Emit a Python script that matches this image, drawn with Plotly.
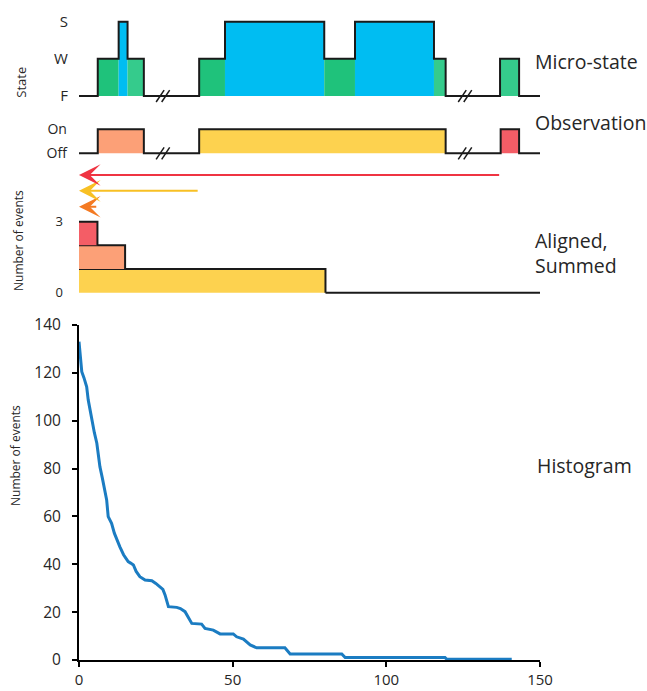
import plotly.graph_objects as go

# ---------------- data ----------------
# Micro-state trace: change times and state levels (F=0, W=1, S=2)
state_t = [0, 6.1, 12.9, 15.8, 21.1, 39.1, 47.5, 79.8, 89.8, 115.5, 119.3, 137.0, 143.2, 150]
state_v = [0, 1, 2, 1, 0, 1, 2, 1, 2, 1, 0, 1, 0, 0]
state_labels = ["F", "W", "S"]

# Observation events (On intervals)
obs_start = [6.1, 39.1, 137.2]
obs_end = [21.1, 119.3, 143.2]
obs_labels = ["Off", "On"]

# time-axis breaks
break_t = [27.3, 125.6]

# Aligned / summed levels
aligned_ticks = [0, 3]

# Histogram (number of events vs duration)
hist_x = [0, 0.3, 0.9, 1.6, 2.5, 3.0, 4.1, 5.0, 5.8, 6.8, 7.6, 8.5, 9.0, 9.5, 10.6,
          11.5, 12.4, 13.3, 14.5, 16.0, 16.8, 17.7, 18.6, 19.8, 21.5, 23.7, 25.0,
          26.4, 27.3, 28.0, 29.1, 31.8, 33.0, 34.5, 36.0, 36.7, 39.9, 41.0, 43.7,
          45.9, 50.2, 51.3, 53.5, 55.7, 57.8, 67.0, 68.7, 85.5, 86.6, 119.1, 119.7, 140.8]
hist_y = [133, 127.5, 120.5, 118, 114.2, 108.7, 100.3, 95, 90.6, 80.8, 76, 71, 66.9,
          59.9, 57.1, 53, 50, 47.3, 44, 41.1, 40.5, 39.7, 37, 34.8, 33.4, 33.1, 32,
          30.6, 29.5, 27.2, 22.3, 22.0, 21.5, 20.2, 17, 15.3, 15.0, 13.2, 12.5, 10.9,
          10.9, 9.7, 8.7, 6.3, 5.1, 5.1, 2.5, 2.5, 1.0, 1.0, 0.3, 0.3]
hist_xticks = [0, 50, 100, 150]
hist_yticks = [0, 20, 40, 60, 80, 100, 120, 140]

# ---------------- style ----------------
FONT = "Open Sans"
TXT = "#262626"
GREEN = "#1fc27b"
GREEN_L = "#35cb8c"
BLUE = "#00bdf2"
obs_colors = ["#fca077", "#fdd24f", "#f45d66"]
arrow_colors = ["#f47a22", "#f8c024", "#ef3442"]
seg_green = [None, GREEN, None, GREEN_L, None, GREEN, None, GREEN, None, GREEN_L, None, GREEN_L, None]
LINE = "#1a1a1a"
W = 647
H = 691


def px_y(py):
    return 1 - py / H


fig = go.Figure()

# ---------------- micro-state panel (x2/y2) ----------------
for i in range(len(state_t) - 1):
    v = state_v[i]
    if v == 0:
        continue
    col = BLUE if v == 2 else seg_green[i]
    t0, t1 = state_t[i], state_t[i + 1]
    fig.add_trace(go.Scatter(x=[t0, t0, t1, t1, t0], y=[0, v, v, 0, 0], fill="toself",
                             fillcolor=col, line=dict(width=0), mode="lines",
                             xaxis="x2", yaxis="y2", hoverinfo="skip", showlegend=False))
fig.add_trace(go.Scatter(x=state_t, y=state_v, mode="lines", line=dict(color=LINE, width=2, shape="hv"),
                         xaxis="x2", yaxis="y2", hoverinfo="skip", showlegend=False))

# ---------------- observation panel (x3/y3) ----------------
obs_x = [0]
obs_y = [0]
for i, (s, e) in enumerate(zip(obs_start, obs_end)):
    fig.add_trace(go.Scatter(x=[s, s, e, e, s], y=[0, 1, 1, 0, 0], fill="toself",
                             fillcolor=obs_colors[i], line=dict(width=0), mode="lines",
                             xaxis="x3", yaxis="y3", hoverinfo="skip", showlegend=False))
    obs_x += [s, e]
    obs_y += [1, 0]
obs_x.append(150)
obs_y.append(0)
fig.add_trace(go.Scatter(x=obs_x, y=obs_y, mode="lines", line=dict(color=LINE, width=2, shape="hv"),
                         xaxis="x3", yaxis="y3", hoverinfo="skip", showlegend=False))

# break marks "//"
for ax_x, ax_y, unit in (("x2", "y2", 0.16), ("x3", "y3", 0.25)):
    for b in break_t:
        for off in (-0.9, 0.9):
            fig.add_trace(go.Scatter(x=[b + off - 1.3, b + off + 1.3], y=[-unit, unit], mode="lines",
                                     line=dict(color=LINE, width=1.5), xaxis=ax_x, yaxis=ax_y,
                                     hoverinfo="skip", showlegend=False))

# ---------------- arrows panel (x4/y4) ----------------
annotations = []
for i, s in enumerate(obs_start):
    annotations.append(dict(x=0, y=i, ax=s, ay=i, xref="x4", yref="y4", axref="x4", ayref="y4",
                            text="", showarrow=True, arrowhead=3, arrowsize=1.8, arrowwidth=2,
                            arrowcolor=arrow_colors[i], standoff=0))
fig.add_trace(go.Scatter(x=[0], y=[0], mode="markers", marker=dict(opacity=0), xaxis="x4", yaxis="y4",
                         hoverinfo="skip", showlegend=False))

# ---------------- aligned / summed panel (x5/y5) ----------------
durations = sorted([e - s for s, e in zip(obs_start, obs_end)], reverse=True)
dur_color = {round(e - s, 3): obs_colors[i] for i, (s, e) in enumerate(zip(obs_start, obs_end))}
for lvl, d in enumerate(durations):
    col = dur_color[round(d, 3)]
    fig.add_trace(go.Scatter(x=[0, 0, d, d, 0], y=[lvl, lvl + 1, lvl + 1, lvl, lvl], fill="toself",
                             fillcolor=col, line=dict(width=0), mode="lines",
                             xaxis="x5", yaxis="y5", hoverinfo="skip", showlegend=False))
    fig.add_trace(go.Scatter(x=[0, d, d], y=[lvl + 1, lvl + 1, lvl], mode="lines",
                             line=dict(color=LINE, width=2), xaxis="x5", yaxis="y5",
                             hoverinfo="skip", showlegend=False))
fig.add_trace(go.Scatter(x=[durations[0], 150], y=[0, 0], mode="lines", line=dict(color=LINE, width=2),
                         xaxis="x5", yaxis="y5", hoverinfo="skip", showlegend=False))

# ---------------- histogram (x/y) ----------------
fig.add_trace(go.Scatter(x=hist_x, y=hist_y, mode="lines", line=dict(color="#1b7cc2", width=3),
                         hoverinfo="skip", showlegend=False))

# ---------------- layout ----------------
dx = [75.93 / W, 543.07 / W]
hidden_x = dict(domain=dx, range=[-1, 151], visible=False, fixedrange=True, automargin=False)


def ydiag(dom, rng, vals, text, size, standoff, anchor):
    return dict(domain=dom, range=rng, tickvals=vals, ticktext=text, showgrid=False, zeroline=False,
                showline=False, ticks="", tickfont=dict(family=FONT, size=size, color=TXT),
                ticklabelstandoff=standoff, fixedrange=True, automargin=False, anchor=anchor)


fig.update_layout(
    width=W, height=H, margin=dict(l=0, r=0, t=0, b=0, autoexpand=False),
    paper_bgcolor="white", plot_bgcolor="rgba(0,0,0,0)",
    xaxis=dict(domain=[79 / W, 540 / W], range=[0, 150], tickvals=hist_xticks, showgrid=False,
               zeroline=False, showline=True, linecolor="black", linewidth=2, ticks="outside",
               ticklen=5, tickwidth=1.5, tickcolor="black", automargin=False,
               tickfont=dict(family=FONT, size=15, color=TXT), ticklabelstandoff=0),
    yaxis=dict(domain=[px_y(660), px_y(325)], range=[0, 140], tickvals=hist_yticks, showgrid=False,
               zeroline=False, showline=True, linecolor="black", linewidth=2, ticks="outside",
               ticklen=5, tickwidth=1.5, tickcolor="black", automargin=False,
               tickfont=dict(family=FONT, size=15.5, color=TXT), ticklabelstandoff=8),
    xaxis2=hidden_x, xaxis3=hidden_x, xaxis4=hidden_x, xaxis5=hidden_x,
    yaxis2=ydiag([px_y(105.3), px_y(12.4)], [-0.25, 2.25], [0, 1, 2], state_labels, 15, 7, "x2"),
    yaxis3=ydiag([px_y(161.7), px_y(120.9)], [-0.35, 1.35], [0, 1], obs_labels, 14, 8, "x3"),
    yaxis4=dict(domain=[px_y(214.6), px_y(167.1)], range=[-0.5, 2.5], visible=False, fixedrange=True,
                automargin=False, anchor="x4"),
    yaxis5=ydiag([px_y(299.8), px_y(214.6)], [-0.3, 3.3], aligned_ticks, [str(v) for v in aligned_ticks], 13, 12, "x5"),
    annotations=annotations + [
        dict(text="Micro-state", x=533 / W, y=px_y(61.7), xref="paper", yref="paper", xanchor="left",
             yanchor="middle", showarrow=False, font=dict(family=FONT, size=19.5, color=TXT)),
        dict(text="Observation", x=533 / W, y=px_y(122.7), xref="paper", yref="paper", xanchor="left",
             yanchor="middle", showarrow=False, font=dict(family=FONT, size=19.5, color=TXT)),
        dict(text="Aligned,<br>Summed", x=533 / W, y=px_y(252.5), xref="paper", yref="paper",
             xanchor="left", yanchor="middle", align="left", showarrow=False,
             font=dict(family=FONT, size=19.5, color=TXT)),
        dict(text="Histogram", x=535 / W, y=px_y(465), xref="paper", yref="paper", xanchor="left",
             yanchor="middle", showarrow=False, font=dict(family=FONT, size=19.5, color=TXT)),
        dict(text="State", x=20.7 / W, y=px_y(82), xref="paper", yref="paper", xanchor="center",
             yanchor="middle", textangle=-90, showarrow=False, font=dict(family=FONT, size=13, color=TXT)),
        dict(text="Number of events", x=18 / W, y=px_y(241), xref="paper", yref="paper", xanchor="center",
             yanchor="middle", textangle=-90, showarrow=False, font=dict(family=FONT, size=12, color=TXT)),
        dict(text="Number of events", x=15 / W, y=px_y(456), xref="paper", yref="paper", xanchor="center",
             yanchor="middle", textangle=-90, showarrow=False, font=dict(family=FONT, size=12, color=TXT)),
    ],
)

fig.write_html("out.html")
